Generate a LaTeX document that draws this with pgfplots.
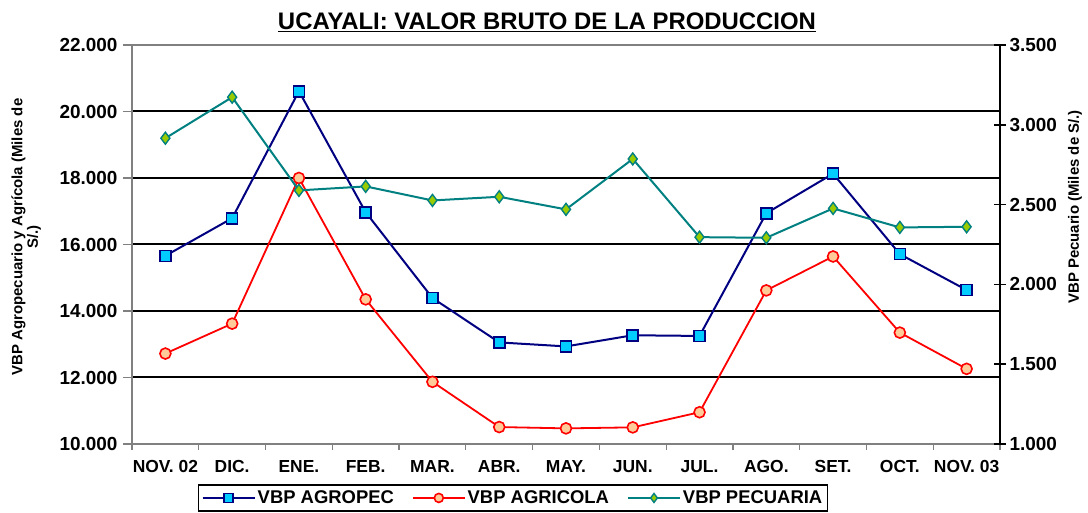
\documentclass[border=0pt]{standalone}
\usepackage{fontspec}
\setmainfont{Liberation Sans}
\usepackage{pgfplots}
\pgfplotsset{compat=1.18}
\definecolor{navyc}{RGB}{0,0,128}
\definecolor{cyanf}{RGB}{0,204,255}
\definecolor{peach}{RGB}{255,204,153}
\definecolor{tealc}{RGB}{0,128,128}
\definecolor{limef}{RGB}{153,204,0}
\definecolor{grayax}{RGB}{128,128,128}
\pgfplotsset{
  agropec/.style={color=navyc, line width=2bp, mark=square*, mark size=5.5bp,
    mark options={fill=cyanf, draw=navyc, line width=1.6bp, solid}},
  agricola/.style={color=red, line width=1.8bp, mark=*, mark size=5.5bp,
    mark options={fill=peach, draw=red, line width=1.6bp, solid}},
  pecuaria/.style={color=tealc, line width=2bp, mark=diamond*, mark size=6bp,
    mark options={fill=limef, draw=tealc, line width=1.4bp, solid}},
}
\begin{document}
\begin{tikzpicture}
\useasboundingbox (0,0) rectangle (1088bp,513bp);
\node[font=\bfseries\fontsize{24}{28}\selectfont, anchor=base] at (547bp,483bp)
  {\underline{UCAYALI: VALOR BRUTO DE LA PRODUCCION}};
\begin{axis}[
  at={(132bp,69bp)}, anchor=south west,
  scale only axis, width=868bp, height=399bp,
  xmin=-0.5, xmax=12.5, ymin=10000, ymax=22000,
  scaled y ticks=false,
  axis line style={grayax, line width=2bp},
  xtick={0,...,12},
  xticklabels={NOV. 02,DIC.,ENE.,FEB.,MAR.,ABR.,MAY.,JUN.,JUL.,AGO.,SET.,OCT.,NOV. 03},
  major x tick style={draw=none},
  minor xtick={-0.5,0.5,...,12.5},
  minor tick length=6bp,
  minor x tick style={grayax, line width=1.2bp},
  xtick pos=bottom, ytick pos=left,
  tick align=outside,
  major tick length=9bp,
  ytick={10000,12000,...,22000},
  yticklabels={10.000,12.000,14.000,16.000,18.000,20.000,22.000},
  y tick style={grayax, line width=1.2bp},
  ymajorgrids, major grid style={black, line width=2bp},
  /pgf/number format/assume math mode=true,
  xticklabel style={font=\bfseries\fontsize{17.5}{20}\selectfont, yshift=-4bp},
  yticklabel style={font=\bfseries\fontsize{19}{22}\selectfont, xshift=-2bp},
  ylabel={VBP Agropecuario y Agrícola (Miles de\\S/.)},
  ylabel style={align=center, font=\bfseries\fontsize{15}{15.5}\selectfont,
    at={(axis description cs:-0.122,0.519)}, anchor=center},
  legend columns=3,
  legend style={at={(axis description cs:0.076,-0.1003)}, anchor=north west,
    draw=black, line width=1.5bp, font=\bfseries\fontsize{18.5}{21}\selectfont,
    inner xsep=3bp, inner ysep=4bp,
    /tikz/every odd column/.append style={column sep=0bp},
    /tikz/every even column/.append style={column sep=16bp}},
  legend image code/.code={\draw[mark repeat=2,mark phase=2,mark size=4.5bp] plot coordinates {(0bp,0bp)(26bp,0bp)(52bp,0bp)};},
]
\addplot[agropec] coordinates {
(0,15660) (1,16790) (2,20610) (3,16970) (4,14390) (5,13055) (6,12935)
(7,13270) (8,13250) (9,16940) (10,18130) (11,15710) (12,14630)};
\addlegendentry{VBP AGROPEC}
\addplot[agricola] coordinates {
(0,12720) (1,13620) (2,18000) (3,14350) (4,11870) (5,10510) (6,10470)
(7,10500) (8,10955) (9,14620) (10,15640) (11,13350) (12,12260)};
\addlegendentry{VBP AGRICOLA}
\addlegendimage{pecuaria}
\addlegendentry{VBP PECUARIA}
\end{axis}
\begin{axis}[
  at={(132bp,69bp)}, anchor=south west,
  scale only axis, width=868bp, height=399bp,
  xmin=-0.5, xmax=12.5, ymin=1000, ymax=3500,
  scaled y ticks=false,
  axis x line=none, axis y line*=right,
  axis line style={black, line width=2bp},
  ytick={1000,1500,...,3500},
  yticklabels={1.000,1.500,2.000,2.500,3.000,3.500},
  tick align=center, major tick length=12bp,
  y tick style={black, line width=1.6bp},
  /pgf/number format/assume math mode=true,
  yticklabel style={font=\bfseries\fontsize{19}{22}\selectfont},
  ylabel={VBP Pecuario (Miles de S/.)},
  ylabel style={font=\bfseries\fontsize{15}{15.5}\selectfont,
    at={(axis description cs:1.0864,0.594)}, anchor=center},
]
\addplot[pecuaria] coordinates {
(0,2916) (1,3173) (2,2589) (3,2614) (4,2526) (5,2549) (6,2470)
(7,2786) (8,2296) (9,2292) (10,2476) (11,2357) (12,2361)};
\end{axis}
\end{tikzpicture}
\end{document}
